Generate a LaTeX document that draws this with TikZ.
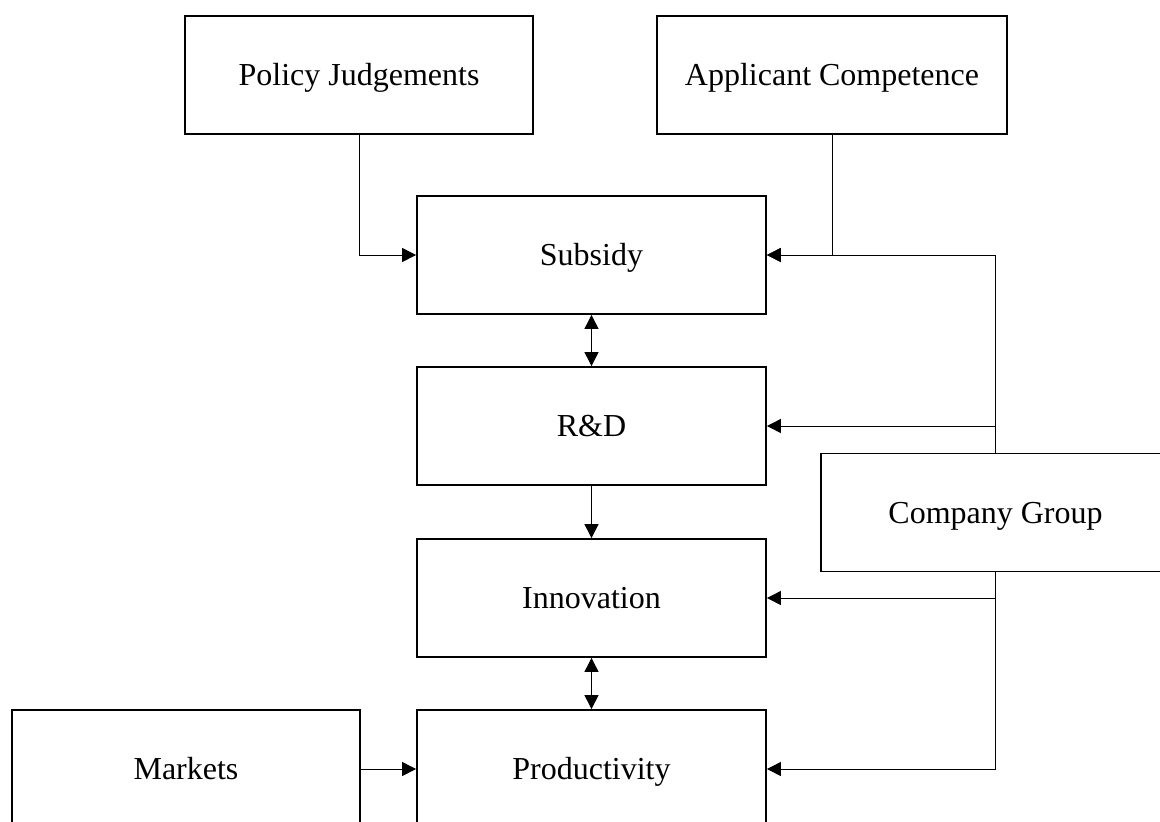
\documentclass[tikz,border=0pt]{standalone}
\usepackage{fontspec}
\setmainfont{Liberation Serif}
\usetikzlibrary{arrows.meta}
\begin{document}
\begin{tikzpicture}[x=1pt,y=-1pt,
  box/.style={draw, line width=1.8pt, rectangle, minimum width=349pt, minimum height=118pt, inner sep=0pt, text height=21pt, text depth=0pt, font=\fontsize{32}{38}\selectfont},
  conn/.style={line width=1pt, -{Triangle[length=14pt,width=14pt]}},
  dconn/.style={line width=1pt, {Triangle[length=14pt,width=14pt]}-{Triangle[length=14pt,width=14pt]}}]
\useasboundingbox (0,0) rectangle (1160,822);
\node[box, minimum width=348pt] (pj) at (359,75) {Policy Judgements};
\node[box, minimum width=350pt] (ac) at (832,75) {Applicant Competence};
\node[box] (sub) at (591.5,255) {Subsidy};
\node[box] (rd) at (591.5,426) {R\&D};
\node[box] (inn) at (591.5,598) {Innovation};
\node[box] (prod) at (591.5,769) {Productivity};
\node[box, minimum width=348pt] (mk) at (186,769) {Markets};
\node[box] (cg) at (995.5,512.5) {Company Group};
\draw[conn] (pj.south) |- (sub.west);
\draw[conn] (ac.south) |- (sub.east);
\draw[conn] (cg.north) |- (sub.east);
\draw[conn] (cg.north) |- (rd.east);
\draw[conn] (cg.south) |- (inn.east);
\draw[conn] (cg.south) |- (prod.east);
\draw[dconn] (sub.south) -- (rd.north);
\draw[conn] (rd.south) -- (inn.north);
\draw[dconn] (inn.south) -- (prod.north);
\draw[conn] (mk.east) -- (prod.west);
\end{tikzpicture}
\end{document}
